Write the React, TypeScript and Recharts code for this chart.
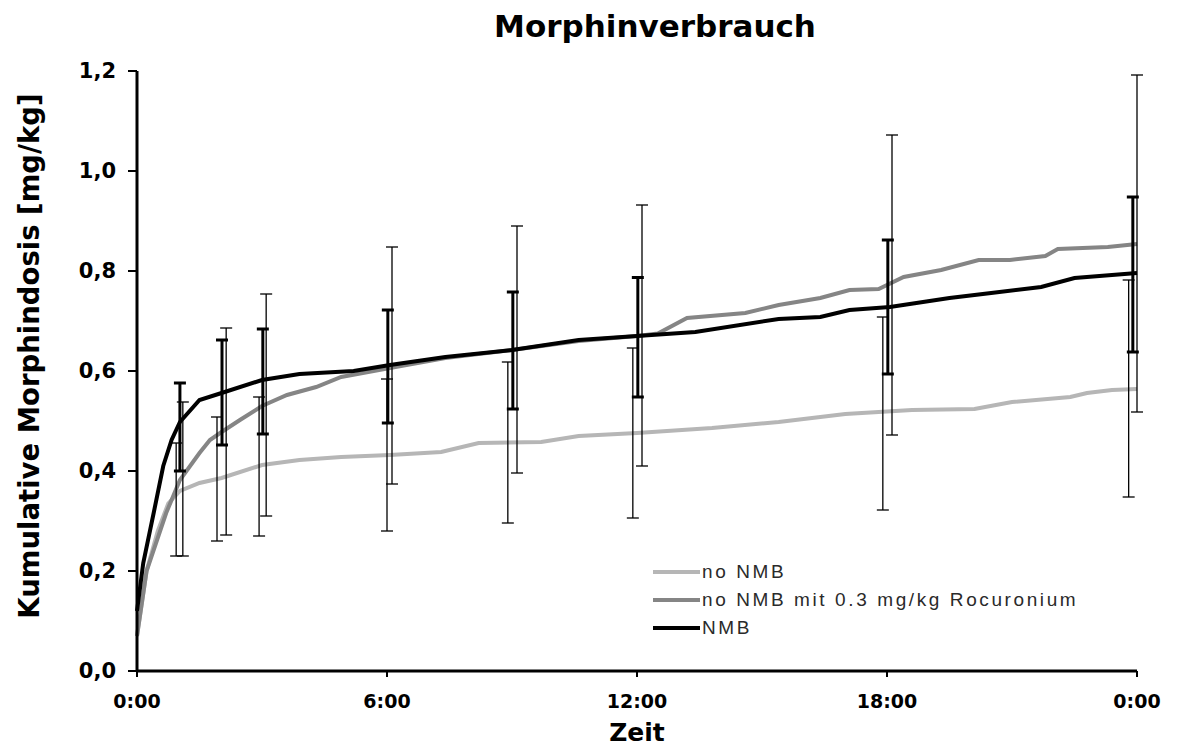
import { ComposedChart, Line, XAxis, YAxis, ErrorBar } from 'recharts';

// zeit in stunden, kumulative dosis in mg/kg
const nmbHours = [0, 0.15, 0.4, 0.63, 0.83, 1.03, 1.5, 2.03, 3.0, 3.9, 5.2, 6.07, 7.4, 9.0, 10.6, 12.0, 13.4, 15.4, 16.4, 17.1, 18.07, 19.5, 20.5, 21.7, 22.5, 24];
const nmbValues = [0.12, 0.216, 0.316, 0.41, 0.462, 0.498, 0.542, 0.556, 0.582, 0.594, 0.6, 0.612, 0.628, 0.642, 0.662, 0.67, 0.678, 0.704, 0.708, 0.722, 0.728, 0.746, 0.756, 0.768, 0.786, 0.796];

const rocHours = [0, 0.23, 0.7, 1.03, 1.5, 1.75, 2.03, 2.47, 3.0, 3.6, 4.3, 4.9, 6.07, 7.4, 9.0, 10.6, 12.0, 12.5, 13.2, 14.6, 15.4, 16.4, 17.1, 17.8, 18.4, 19.3, 20.2, 20.95, 21.8, 22.1, 23.3, 24];
const rocValues = [0.07, 0.2, 0.316, 0.382, 0.436, 0.462, 0.478, 0.502, 0.53, 0.552, 0.568, 0.588, 0.606, 0.626, 0.642, 0.66, 0.67, 0.675, 0.706, 0.716, 0.732, 0.746, 0.762, 0.764, 0.788, 0.802, 0.822, 0.822, 0.83, 0.844, 0.848, 0.854];

const noNmbHours = [0, 0.23, 0.5, 0.75, 1.03, 1.5, 2.03, 3.0, 3.9, 4.9, 6.07, 7.3, 8.2, 9.7, 10.6, 12.0, 13.8, 15.4, 17.0, 18.6, 20.1, 21.0, 22.4, 22.8, 23.4, 24];
const noNmbValues = [0.07, 0.2, 0.28, 0.335, 0.36, 0.376, 0.386, 0.412, 0.422, 0.428, 0.432, 0.438, 0.456, 0.458, 0.47, 0.476, 0.486, 0.498, 0.514, 0.522, 0.524, 0.538, 0.548, 0.556, 0.562, 0.564];

// fehlerbalken: untere / obere grenze
const noNmbErrHours = [0.94, 1.92, 2.93, 6.0, 8.9, 11.9, 17.9, 23.8];
const noNmbErrLow = [0.23, 0.26, 0.27, 0.28, 0.296, 0.306, 0.322, 0.348];
const noNmbErrHigh = [0.456, 0.508, 0.548, 0.584, 0.618, 0.646, 0.708, 0.782];

const nmbErrHours = [1.03, 2.04, 3.02, 6.02, 9.02, 12.02, 18.02, 23.9];
const nmbErrLow = [0.4, 0.452, 0.474, 0.496, 0.524, 0.548, 0.594, 0.638];
const nmbErrHigh = [0.576, 0.662, 0.684, 0.722, 0.758, 0.787, 0.862, 0.948];

const rocErrHours = [1.1, 2.14, 3.1, 6.12, 9.12, 12.12, 18.12, 24];
const rocErrLow = [0.23, 0.272, 0.31, 0.374, 0.396, 0.41, 0.472, 0.518];
const rocErrHigh = [0.538, 0.686, 0.754, 0.848, 0.89, 0.932, 1.072, 1.192];

const xTicks = [0, 6, 12, 18, 24];
const yTicks = [0, 0.2, 0.4, 0.6, 0.8, 1.0, 1.2];

const seriesNames = ['no NMB', 'no NMB mit 0.3 mg/kg Rocuronium', 'NMB'];
const seriesColors = ['#b6b6b6', '#858585', '#000000'];

const toLine = (hours: number[], values: number[]) => hours.map((t, i) => ({ t, v: values[i] }));
const toErr = (hours: number[], low: number[], high: number[]) =>
  hours.map((t, i) => ({ t, v: (low[i] + high[i]) / 2, err: (high[i] - low[i]) / 2 }));

const boldFont = '"DejaVu Sans", sans-serif';

export default function App() {
  return (
    <div style={{ position: 'relative', width: 1168, height: 739, background: '#fff' }}>
      <div
        style={{
          position: 'absolute', left: 0, width: 1294, top: 3, textAlign: 'center', lineHeight: '31px',
          fontFamily: boldFont, fontWeight: 'bold', fontSize: 31,
        }}
      >
        Morphinverbrauch
      </div>
      <div
        style={{
          position: 'absolute', left: 645, top: 550, fontFamily: '"Liberation Sans", Arial, sans-serif',
          fontSize: 19, letterSpacing: 2.6, color: '#2a2a2a', zIndex: 2,
        }}
      >
        {seriesNames.map((name, i) => (
          <div key={name} style={{ display: 'flex', alignItems: 'center', height: 28 }}>
            <div style={{ width: 47, height: 4, background: seriesColors[i], marginRight: 2 }} />
            <span>{name}</span>
          </div>
        ))}
      </div>
      <ComposedChart width={1168} height={739} margin={{ top: 63, right: 39, bottom: 0, left: 0 }}>
        <XAxis
          dataKey="t"
          type="number"
          domain={[0, 24]}
          ticks={xTicks}
          tickFormatter={(h: number) => `${h % 24}:00`}
          axisLine={{ stroke: '#000', strokeWidth: 3 }}
          tickLine={{ stroke: '#000', strokeWidth: 2 }}
          tickSize={6}
          tickMargin={18}
          height={76}
          tick={{ fill: '#000', fontFamily: boldFont, fontWeight: 'bold', fontSize: 19 }}
          label={({ viewBox }: any) => (
            <text x={viewBox.x + viewBox.width / 2} y={viewBox.y + 70} textAnchor="middle"
              fontFamily={boldFont} fontWeight="bold" fontSize={25} fill="#000">Zeit</text>
          )}
        />
        <YAxis
          type="number"
          domain={[0, 1.2]}
          ticks={yTicks}
          tickFormatter={(v: number) => v.toFixed(1).replace('.', ',')}
          axisLine={{ stroke: '#000', strokeWidth: 3 }}
          tickLine={{ stroke: '#000', strokeWidth: 2 }}
          tickSize={9}
          tickMargin={12}
          width={129}
          tick={{ fill: '#000', fontFamily: boldFont, fontWeight: 'bold', fontSize: 21 }}
          label={({ viewBox }: any) => {
            const cy = viewBox.y + viewBox.height / 2 - 15;
            return (
              <text x={21} y={cy} transform={`rotate(-90, 21, ${cy})`} textAnchor="middle" dominantBaseline="central"
                fontFamily={boldFont} fontWeight="bold" fontSize={27.5} fill="#000">Kumulative Morphindosis [mg/kg]</text>
            );
          }}
        />
        <Line data={toLine(noNmbHours, noNmbValues)} dataKey="v" name={seriesNames[0]} stroke={seriesColors[0]} strokeWidth={4} dot={false} isAnimationActive={false} />
        <Line data={toLine(rocHours, rocValues)} dataKey="v" name={seriesNames[1]} stroke={seriesColors[1]} strokeWidth={4} dot={false} isAnimationActive={false} />
        <Line data={toLine(nmbHours, nmbValues)} dataKey="v" name={seriesNames[2]} stroke={seriesColors[2]} strokeWidth={4} dot={false} isAnimationActive={false} />
        <Line data={toErr(noNmbErrHours, noNmbErrLow, noNmbErrHigh)} dataKey="v" stroke="none" dot={false} legendType="none" isAnimationActive={false}>
          <ErrorBar dataKey="err" direction="y" stroke="#000" strokeWidth={1.3} width={6} isAnimationActive={false} />
        </Line>
        <Line data={toErr(rocErrHours, rocErrLow, rocErrHigh)} dataKey="v" stroke="none" dot={false} legendType="none" isAnimationActive={false}>
          <ErrorBar dataKey="err" direction="y" stroke="#000" strokeWidth={1.3} width={6} isAnimationActive={false} />
        </Line>
        <Line data={toErr(nmbErrHours, nmbErrLow, nmbErrHigh)} dataKey="v" stroke="none" dot={false} legendType="none" isAnimationActive={false}>
          <ErrorBar dataKey="err" direction="y" stroke="#000" strokeWidth={3} width={6} isAnimationActive={false} />
        </Line>
      </ComposedChart>
    </div>
  );
}
